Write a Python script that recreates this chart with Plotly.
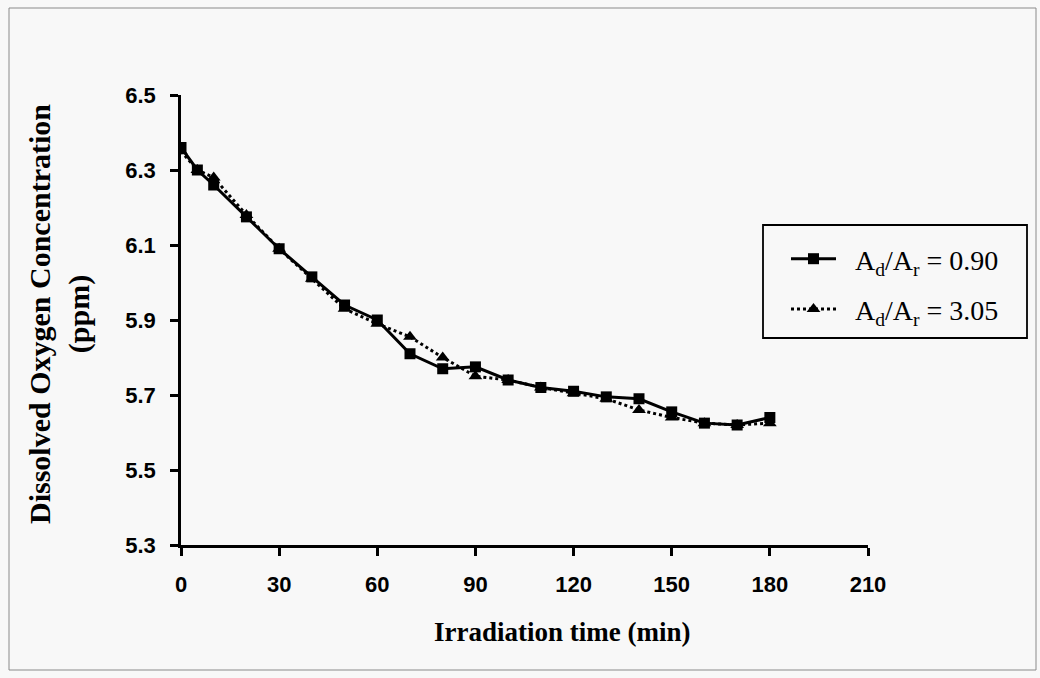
import plotly.graph_objects as go

time_min = [0, 5, 10, 20, 30, 40, 50, 60, 70, 80, 90, 100, 110, 120, 130, 140, 150, 160, 170, 180]
do_090 = [6.36, 6.30, 6.26, 6.175, 6.09, 6.015, 5.94, 5.90, 5.81, 5.77, 5.775, 5.74, 5.72, 5.71, 5.695, 5.69, 5.655, 5.625, 5.62, 5.64]
do_305 = [6.35, 6.30, 6.28, 6.18, 6.09, 6.01, 5.93, 5.89, 5.855, 5.80, 5.75, 5.74, 5.72, 5.705, 5.69, 5.66, 5.64, 5.625, 5.62, 5.625]

x_ticks = [0, 30, 60, 90, 120, 150, 180, 210]
y_ticks = [5.3, 5.5, 5.7, 5.9, 6.1, 6.3, 6.5]
series_names = ["A<sub>d</sub>/A<sub>r</sub> = 0.90", "A<sub>d</sub>/A<sub>r</sub> = 3.05"]
x_title = "Irradiation time (min)"
y_title = "Dissolved Oxygen Concentration<br>(ppm)"

fig = go.Figure()
fig.add_trace(go.Scatter(
    x=time_min, y=do_090, name="&nbsp;&nbsp;" + series_names[0], mode="lines+markers",
    line=dict(color="black", width=3),
    marker=dict(symbol="square", size=11, color="black"),
    legendgroup="a",
))
fig.add_trace(go.Scatter(
    x=time_min, y=do_305, name="&nbsp;&nbsp;" + series_names[1], mode="lines+markers",
    line=dict(color="black", width=3, dash="dot"),
    marker=dict(symbol="triangle-up", size=12, color="black"),
    legendgroup="b",
))

L, R, T, B = 181, 172, 95, 133
pw, ph = 1040 - L - R, 678 - T - B

def px_x(p):
    return (p - L) / pw

def px_y(p):
    return (678 - B - p) / ph

tick_font = dict(family="Liberation Sans Narrow, Liberation Sans, Arial", size=22, color="black")

fig.update_layout(
    width=1040, height=678,
    margin=dict(l=L, r=R, t=T, b=B),
    paper_bgcolor="#f8f8f8", plot_bgcolor="#f8f8f8",
    font=dict(family="Liberation Serif", color="black"),
    showlegend=True,
    legend=dict(
        x=px_x(786), y=px_y(234), xanchor="left", yanchor="top",
        borderwidth=0, bgcolor="rgba(0,0,0,0)",
        font=dict(family="Liberation Serif", size=28, color="black"),
        tracegroupgap=11, traceorder="grouped",
        itemwidth=45,
    ),
    xaxis=dict(
        range=[0, 210], tickvals=x_ticks, ticktext=["<b>%d</b>" % v for v in x_ticks],
        showgrid=False, zeroline=False, showline=True, linecolor="black", linewidth=2.5,
        ticks="outside", ticklen=8, tickwidth=2.5, tickcolor="black",
        tickfont=tick_font, ticklabelstandoff=10,
    ),
    yaxis=dict(
        range=[5.3, 6.5], tickvals=y_ticks, ticktext=["<b>%.1f</b>" % v for v in y_ticks],
        showgrid=False, zeroline=False, showline=True, linecolor="black", linewidth=2.5,
        ticks="outside", ticklen=8, tickwidth=2.5, tickcolor="black",
        tickfont=tick_font, ticklabelstandoff=10,
    ),
)

# axis titles placed as annotations to match the reference positions
fig.add_annotation(text="<b>%s</b>" % x_title, xref="paper", yref="paper",
                   x=px_x(562), y=px_y(632), xanchor="center", yanchor="middle",
                   showarrow=False,
                   font=dict(family="Liberation Serif", size=27, color="black"))
fig.add_annotation(text="<b>%s</b>" % y_title, xref="paper", yref="paper",
                   x=px_x(59), y=px_y(314), xanchor="center", yanchor="middle",
                   showarrow=False, textangle=-90,
                   font=dict(family="Liberation Serif", size=30, color="black"))

# legend frame
fig.add_shape(type="rect", xref="paper", yref="paper",
              x0=px_x(763), x1=px_x(1027), y0=px_y(338), y1=px_y(225),
              line=dict(color="black", width=1.8))

# outer frame
fig.add_shape(type="rect", xref="paper", yref="paper",
              x0=px_x(9), x1=px_x(1036), y0=px_y(670), y1=px_y(8),
              line=dict(color="#8a8a8a", width=1), layer="below")

fig.write_html("out.html")
